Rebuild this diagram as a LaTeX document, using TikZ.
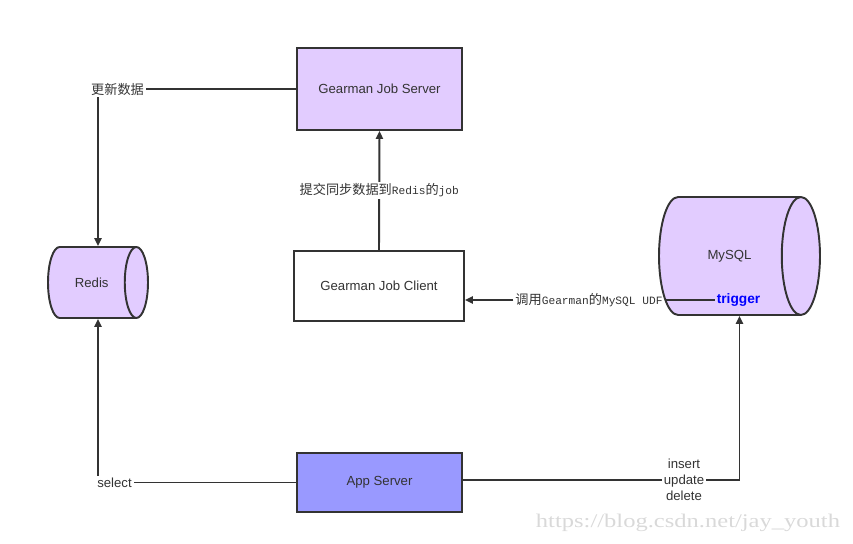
\documentclass[tikz,border=0pt]{standalone}
\usepackage{fontspec}
\setmainfont{Liberation Sans}
\setmonofont[Scale=0.85]{Liberation Mono}
\newfontfamily\cjk{Noto Sans CJK SC}
\newfontfamily\wmfont{Liberation Serif}
\usetikzlibrary{shapes.geometric,arrows.meta}
\definecolor{lilac}{HTML}{E2CCFF}
\definecolor{periwinkle}{HTML}{9999FF}
\definecolor{ink}{HTML}{333333}

\begin{document}
\begin{tikzpicture}[x=0.02cm,y=-0.02cm,
    font=\fontsize{7.5}{9}\selectfont, text=ink,
    box/.style={draw=ink, line width=1.1pt, inner sep=0pt},
    drum/.style={cylinder, draw=ink, line width=1.1pt, fill=lilac, inner sep=0pt, anchor=shape center},
    lbl/.style={inner sep=1pt},
    link/.style={draw=ink, line width=1.1pt},
    arr/.style={link, -{Triangle[length=4.5pt,width=4pt]}}]
      \useasboundingbox (0,0) rectangle (853,544);
      \node[box, fill=lilac, minimum width=3.3cm, minimum height=1.64cm] (server) at (379.5,89) {Gearman Job Server};
      \node[box, fill=white, minimum width=3.4cm, minimum height=1.4cm] (client) at (379,286) {Gearman Job Client};
      \node[box, fill=periwinkle, minimum width=3.3cm, minimum height=1.18cm] (app) at (379.5,482.5) {App Server};
      \node[drum, shape aspect=2.4, minimum height=2cm, minimum width=1.42cm] (redis) at (98,282.5) {Redis};
      \node[drum, shape aspect=3.2, minimum height=3.22cm, minimum width=2.36cm] (mysql) at (739.5,256) {MySQL};
      \node[lbl, font=\fontsize{7.8}{9}\bfseries, text=blue] (trigger) at (738.5,300) {trigger};
      \node[lbl] (update) at (117.5,89) {\cjk 更新数据};
      \node[lbl] (select) at (114.5,482.5) {select};
      \node[lbl, align=center] (iud) at (684,480) {insert\\update\\delete};
      \node[lbl] (udf) at (589,300) {{\cjk 调用}\texttt{Gearman}{\cjk 的}\texttt{MySQL UDF}};
      \draw[link] (server.west) -- (update.east);
      \draw[arr] (update.south -| redis.shape center) -- (redis.shape center |- redis.north);
      \draw[link] (app.west) -- (select.east);
      \draw[arr] (select.north -| redis.shape center) -- (redis.shape center |- redis.south);
      \draw[arr] (client.north) -- node[lbl, fill=white] {{\cjk 提交同步数据到}\texttt{Redis}{\cjk 的}\texttt{job}} (server.south);
      \draw[link] (trigger.west) -- (udf.east);
      \draw[arr] (udf.west) -- (udf.west -| client.east);
      \draw[link] (app.east |- iud.west) -- (iud.west);
      \draw[arr] (iud.east) -| (mysql.shape center |- mysql.south);
      \node[text=black!15, font=\wmfont\fontsize{11}{11}\selectfont] (mark) at (688,523) {\scalebox{1.27}[1]{https://blog.csdn.net/jay\_youth}};
\end{tikzpicture}
\end{document}
